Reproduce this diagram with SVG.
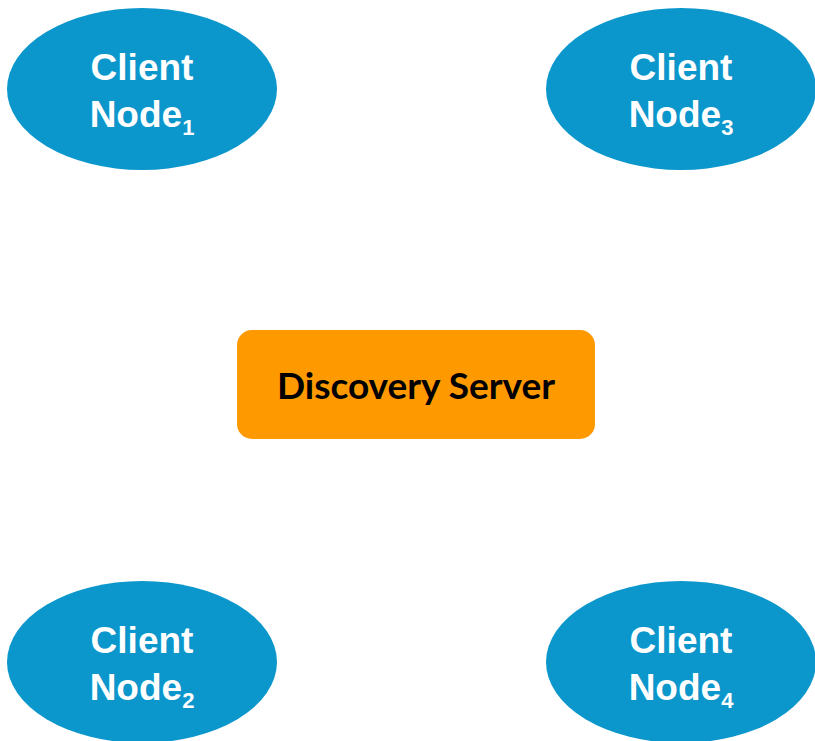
<svg xmlns="http://www.w3.org/2000/svg" width="815" height="741" viewBox="0 0 815 741">
<style>
.cn{fill:#0B96CC}
.ct{fill:#fff;font-family:"Liberation Sans",Arial,sans-serif;font-weight:bold;font-size:37px;text-anchor:middle}
.sub{font-size:22px}
.ds{fill:#FF9900}
.dt{fill:#000;font-family:Lato,"Liberation Sans",sans-serif;font-weight:bold;font-size:37px;text-anchor:middle}
</style>
<rect width="815" height="741" fill="#fff"/>
<g id="connectors"></g>
<g id="client1">
<ellipse class="cn" cx="142" cy="89" rx="135" ry="81"/>
<text class="ct" x="142" y="80">Client</text>
<text class="ct" x="142" y="127">Node<tspan class="sub" dy="8">1</tspan></text>
</g>
<g id="client3">
<ellipse class="cn" cx="681" cy="89" rx="135" ry="81"/>
<text class="ct" x="681" y="80">Client</text>
<text class="ct" x="681" y="127">Node<tspan class="sub" dy="8">3</tspan></text>
</g>
<g id="client2">
<ellipse class="cn" cx="142" cy="662" rx="135" ry="81"/>
<text class="ct" x="142" y="653">Client</text>
<text class="ct" x="142" y="700">Node<tspan class="sub" dy="8">2</tspan></text>
</g>
<g id="client4">
<ellipse class="cn" cx="681" cy="662" rx="135" ry="81"/>
<text class="ct" x="681" y="653">Client</text>
<text class="ct" x="681" y="700">Node<tspan class="sub" dy="8">4</tspan></text>
</g>
<g id="server">
<rect class="ds" x="237" y="330" width="358" height="109" rx="15"/>
<text class="dt" x="416" y="399">Discovery Server</text>
</g>
</svg>
